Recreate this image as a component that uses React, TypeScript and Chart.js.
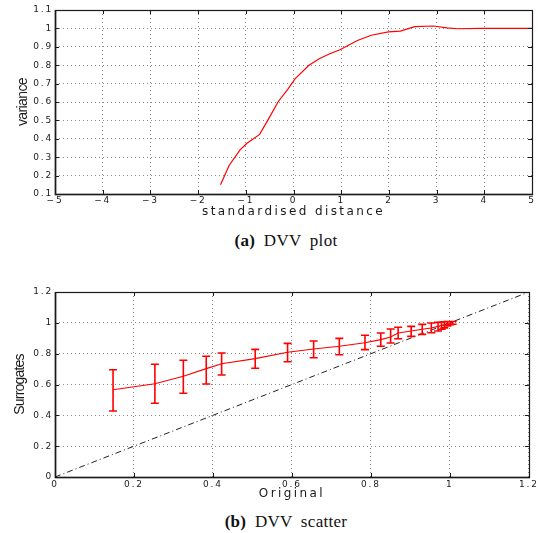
import React, { useEffect, useRef } from "react";
import { Chart, registerables } from "chart.js";

Chart.register(...registerables);

// ---------- (a) DVV plot ----------
const distX = [-1.53, -1.35, -1.12, -0.975, -0.71, -0.54, -0.325, -0.11, 0.036, 0.325, 0.54, 0.76, 0.975, 1.34, 1.63, 1.99, 2.24, 2.54, 2.93, 3.22, 3.43, 3.94, 5];
const varianceY = [0.15, 0.255, 0.34, 0.376, 0.424, 0.5, 0.6, 0.673, 0.727, 0.8, 0.835, 0.862, 0.884, 0.934, 0.963, 0.981, 0.985, 1.01, 1.013, 1.003, 0.998, 1.0, 1.0];
const distTicks = [-5, -4, -3, -2, -1, 0, 1, 2, 3, 4, 5];
const varTicks = [0.1, 0.2, 0.3, 0.4, 0.5, 0.6, 0.7, 0.8, 0.9, 1, 1.1];

// ---------- (b) DVV scatter ----------
const original = [0.147, 0.253, 0.325, 0.383, 0.422, 0.507, 0.589, 0.655, 0.72, 0.785, 0.825, 0.85, 0.869, 0.902, 0.93, 0.953, 0.97, 0.979, 0.986, 0.994, 1.001, 1.007];
const surrogates = [0.566, 0.605, 0.653, 0.703, 0.735, 0.768, 0.809, 0.83, 0.848, 0.871, 0.891, 0.908, 0.934, 0.947, 0.958, 0.966, 0.977, 0.984, 0.988, 0.997, 0.999, 1.0];
const surrLow = [0.428, 0.478, 0.543, 0.603, 0.662, 0.705, 0.748, 0.774, 0.793, 0.826, 0.848, 0.869, 0.897, 0.912, 0.925, 0.936, 0.947, 0.958, 0.967, 0.979, 0.988, 0.991];
const surrHigh = [0.696, 0.731, 0.757, 0.783, 0.804, 0.828, 0.867, 0.882, 0.899, 0.919, 0.934, 0.96, 0.971, 0.977, 0.99, 0.999, 1.003, 1.005, 1.007, 1.009, 1.009, 1.009];
const diagX = [0, 1.2];
const scatterTicks = [0, 0.2, 0.4, 0.6, 0.8, 1, 1.2];

const TICK_FONT = { family: '"DejaVu Sans", sans-serif', size: 9 };
const TITLE_FONT = { family: '"DejaVu Sans", sans-serif', size: 12 };
const YTITLE_FAMILY = '"Liberation Sans Narrow", "Liberation Sans", sans-serif';
const INK = "#1a1a1a";
const RED = "#ff0000";

function fmt(v: number) {
  const r = Math.round(v * 10) / 10;
  return r < 0 ? "\u2212" + String(-r) : String(r);
}

function patchSpacing(scale: any, labelLS: string, titleLS: string) {
  if (scale.__patched) return;
  scale.__patched = true;
  const dl = scale.drawLabels;
  const dt = scale.drawTitle;
  scale.drawLabels = function (a: any) {
    const c = this.ctx;
    const p = c.letterSpacing;
    c.letterSpacing = labelLS;
    dl.call(this, a);
    c.letterSpacing = p;
  };
  scale.drawTitle = function () {
    const c = this.ctx;
    const p = c.letterSpacing;
    c.letterSpacing = titleLS;
    dt.call(this);
    c.letterSpacing = p;
  };
}

// frame + inward tick marks, matlab style
const framePlugin = {
  id: "frame",
  afterDatasetsDraw(chart: any) {
    const { ctx, chartArea: a, scales } = chart;
    ctx.save();
    ctx.strokeStyle = INK;
    ctx.lineWidth = 1;
    ctx.setLineDash([]);
    ctx.beginPath();
    const xs = scales.x, ys = scales.y;
    for (const t of xs.ticks) {
      const px = Math.round(xs.getPixelForValue(t.value)) + 0.5;
      ctx.moveTo(px, a.bottom);
      ctx.lineTo(px, a.bottom - 4);
      ctx.moveTo(px, a.top);
      ctx.lineTo(px, a.top + 4);
    }
    for (const t of ys.ticks) {
      const py = Math.round(ys.getPixelForValue(t.value)) + 0.5;
      ctx.moveTo(a.left, py);
      ctx.lineTo(a.left + 4, py);
      ctx.moveTo(a.right, py);
      ctx.lineTo(a.right - 4, py);
    }
    ctx.stroke();
    ctx.lineWidth = 1.2;
    ctx.strokeRect(Math.round(a.left) + 0.5, Math.round(a.top) + 0.5, Math.round(a.right - a.left), Math.round(a.bottom - a.top));
    ctx.lineWidth = 1.6;
    ctx.beginPath();
    ctx.moveTo(Math.round(a.left) + 0.5, Math.round(a.top));
    ctx.lineTo(Math.round(a.left) + 0.5, Math.round(a.bottom) + 0.5);
    ctx.lineTo(Math.round(a.right) + 1, Math.round(a.bottom) + 0.5);
    ctx.stroke();
    ctx.restore();
  },
};

const errorBarPlugin = {
  id: "errbars",
  afterDatasetsDraw(chart: any) {
    const { ctx, scales } = chart;
    const xs = scales.x, ys = scales.y;
    ctx.save();
    ctx.strokeStyle = RED;
    ctx.lineWidth = 1.6;
    ctx.beginPath();
    for (let i = 0; i < original.length; i++) {
      const px = xs.getPixelForValue(original[i]);
      const lo = ys.getPixelForValue(surrLow[i]);
      const hi = ys.getPixelForValue(surrHigh[i]);
      ctx.moveTo(px, lo);
      ctx.lineTo(px, hi);
      ctx.moveTo(px - 4, lo);
      ctx.lineTo(px + 4, lo);
      ctx.moveTo(px - 4, hi);
      ctx.lineTo(px + 4, hi);
    }
    ctx.stroke();
    ctx.restore();
  },
};

function axisCommon(ticks: number[], min: number, max: number, step: number, title: any, pad: number, fit: (s: any) => void, labelLS: string, titleLS: string) {
  return {
    type: "linear",
    min,
    max,
    afterBuildTicks(s: any) {
      s.ticks = ticks.map((v) => ({ value: v }));
    },
    ticks: {
      stepSize: step,
      autoSkip: false,
      maxRotation: 0,
      font: TICK_FONT,
      color: INK,
      padding: pad,
      callback: (v: number) => fmt(v),
    },
    grid: { color: "#8a8a8a", lineWidth: 1, drawTicks: false },
    border: { display: false, dash: [1, 3] },
    title,
    afterFit(s: any) {
      fit(s);
      patchSpacing(s, labelLS, titleLS);
    },
  };
}

function DvvPlot() {
  const ref = useRef<HTMLCanvasElement>(null);
  useEffect(() => {
    const chart = new Chart(ref.current!, {
      type: "scatter",
      data: {
        datasets: [
          {
            data: distX.map((x, i) => ({ x, y: varianceY[i] })),
            showLine: true,
            borderColor: RED,
            borderWidth: 1.2,
            pointRadius: 0,
            tension: 0,
          },
        ],
      },
      plugins: [framePlugin],
      options: {
        animation: false,
        responsive: false,
        devicePixelRatio: 1,
        layout: { padding: { top: 10, right: 6, left: 0, bottom: 0 } },
        plugins: { legend: { display: false }, tooltip: { enabled: false } },
        scales: {
          x: axisCommon(distTicks, -5, 5, 1,
            { display: true, text: "standardised distance", color: INK, font: TITLE_FONT, padding: { top: 0, bottom: 3 } },
            1, (s) => { s.height = 28; }, "1.8px", "2.4px") as any,
          y: axisCommon(varTicks, 0.1, 1.1, 0.1,
            { display: true, text: "variance", color: INK, font: { family: YTITLE_FAMILY, size: 14 }, padding: { top: 15, bottom: 0 } },
            2, (s) => { s.width = 55; }, "1.8px", "-0.6px") as any,
        },
      },
    } as any);
    return () => chart.destroy();
  }, []);
  return <canvas ref={ref} width={538} height={222} style={{ position: "absolute", left: 0, top: 0, width: 538, height: 222 }} />;
}

function DvvScatter() {
  const ref = useRef<HTMLCanvasElement>(null);
  useEffect(() => {
    const chart = new Chart(ref.current!, {
      type: "scatter",
      data: {
        datasets: [
          {
            data: diagX.map((x) => ({ x, y: x })),
            showLine: true,
            borderColor: "#222",
            borderWidth: 1,
            borderDash: [6, 3, 1, 3],
            pointRadius: 0,
          },
          {
            data: original.map((x, i) => ({ x, y: surrogates[i] })),
            showLine: true,
            borderColor: RED,
            borderWidth: 1.1,
            pointRadius: 0,
            tension: 0,
          },
        ],
      },
      plugins: [framePlugin, errorBarPlugin],
      options: {
        animation: false,
        responsive: false,
        devicePixelRatio: 1,
        layout: { padding: { top: 12, right: 6, left: 0, bottom: 0 } },
        plugins: { legend: { display: false }, tooltip: { enabled: false } },
        scales: {
          x: axisCommon(scatterTicks, 0, 1.2, 0.2,
            { display: true, text: "Original", color: INK, font: TITLE_FONT, padding: { top: 0, bottom: 4 } },
            2, (s) => { s.height = 28; }, "1.8px", "2.4px") as any,
          y: axisCommon(scatterTicks, 0, 1.2, 0.2,
            { display: true, text: "Surrogates", color: INK, font: { family: YTITLE_FAMILY, size: 14 }, padding: { top: 12, bottom: 0 } },
            2, (s) => { s.width = 55; }, "1.8px", "-0.8px") as any,
        },
      },
    } as any);
    return () => chart.destroy();
  }, []);
  return <canvas ref={ref} width={538} height={225} style={{ position: "absolute", left: 0, top: 280, width: 538, height: 225 }} />;
}

const captionStyle: React.CSSProperties = {
  position: "absolute",
  left: 186,
  width: 200,
  textAlign: "center",
  fontFamily: '"Liberation Serif", "Times New Roman", serif',
  fontSize: 17,
  lineHeight: "20px",
  wordSpacing: 4,
  letterSpacing: 0.3,
  color: "#111",
  whiteSpace: "nowrap",
};

export default function App() {
  return (
    <div style={{ position: "absolute", left: 0, top: 0, width: 538, height: 533, background: "#fff", overflow: "hidden" }}>
      <DvvPlot />
      <div style={{ ...captionStyle, top: 231 }}><b>(a)</b> DVV plot</div>
      <DvvScatter />
      <div style={{ ...captionStyle, top: 512 }}><b>(b)</b> DVV scatter</div>
    </div>
  );
}
